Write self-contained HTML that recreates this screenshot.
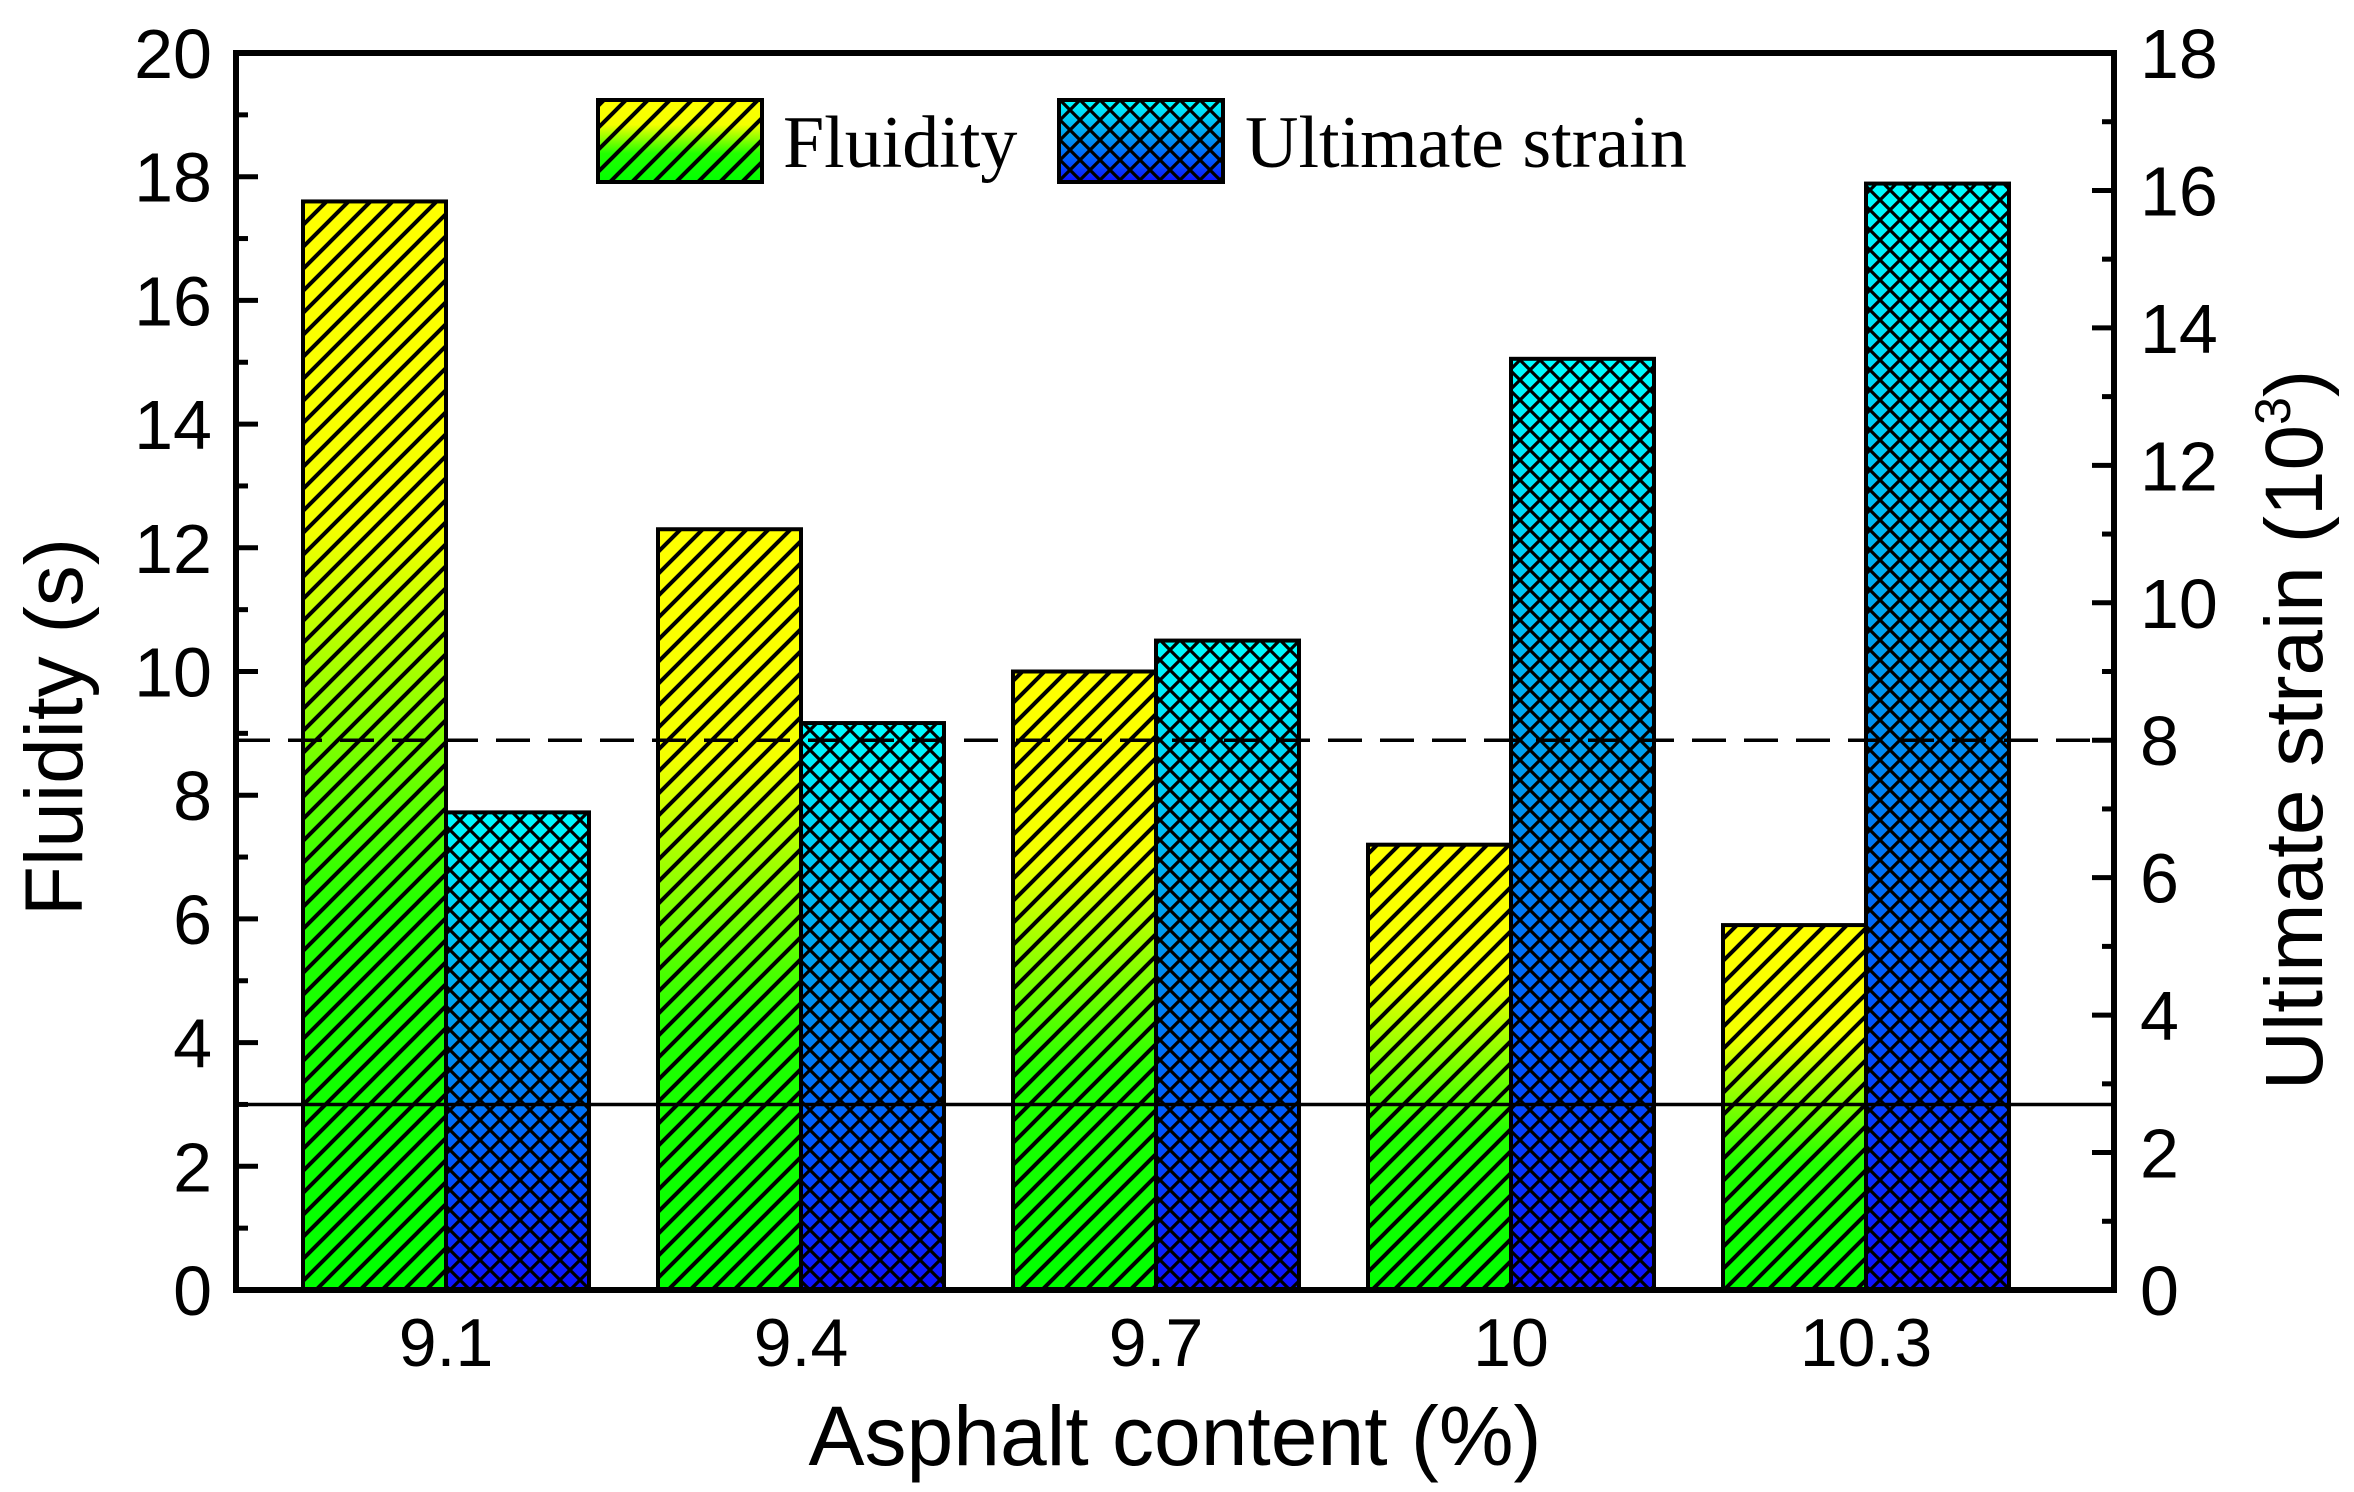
<!DOCTYPE html>
<html><head><meta charset="utf-8"><style>
html,body{margin:0;padding:0;background:#fff;}
svg{display:block;}
text{font-family:"Liberation Sans",Arial,sans-serif;fill:#000;}
</style></head><body>
<svg id="chart" width="2354" height="1492" viewBox="0 0 2354 1492" xmlns="http://www.w3.org/2000/svg">
<defs>
<linearGradient id="gFlu" x1="0" y1="0" x2="0" y2="1">
<stop offset="0" stop-color="#ffff00"/><stop offset="0.3" stop-color="#f4ff00"/><stop offset="0.65" stop-color="#22ff00"/><stop offset="1" stop-color="#00ff00"/>
</linearGradient>
<linearGradient id="gStr" x1="0" y1="0" x2="0" y2="1">
<stop offset="0" stop-color="#00ffff"/><stop offset="0.45" stop-color="#0099ee"/><stop offset="0.75" stop-color="#0055ff"/><stop offset="1" stop-color="#1010ff"/>
</linearGradient>
<pattern id="hDiag" width="22" height="22" patternUnits="userSpaceOnUse">
<path d="M-5,27 L27,-5 M-16,16 L16,-16 M6,38 L38,6" stroke="#000" stroke-width="4"/>
</pattern>
<pattern id="hCross" width="20" height="20" patternUnits="userSpaceOnUse">
<path d="M-5,25 L25,-5 M-5,-5 L25,25 M-15,15 L15,-15 M5,35 L35,5 M-15,5 L5,25 M5,-15 L35,15" stroke="#000" stroke-width="3.2"/>
</pattern>
</defs>
<g id="bars"></g>
<g id="axes"></g>
</svg>
<script>
const categories = ["9.1","9.4","9.7","10","10.3"];
const fluidity = [17.6, 12.3, 10.0, 7.2, 5.9];
const strain = [6.95, 8.25, 9.45, 13.55, 16.1];
const leftTicks = [0,2,4,6,8,10,12,14,16,18,20];
const rightTicks = [0,2,4,6,8,10,12,14,16,18];
const fluidityLimit = [3];
const strainLimit = [8];

const NS="http://www.w3.org/2000/svg";
const L=236,R=2114,T=53,B=1290;
const yL=v=>B-(v/20)*(B-T);
const yR=v=>B-(v/18)*(B-T);
const groupW=355, firstCenter=446, barW=143;
const xC=i=>firstCenter+i*groupW;
function mk(tag,attrs,parent){const e=document.createElementNS(NS,tag);for(const k in attrs)e.setAttribute(k,attrs[k]);parent.appendChild(e);return e;}
const bars=document.getElementById('bars'), axes=document.getElementById('axes');

categories.forEach((c,i)=>{
  const x=xC(i);
  const y1=yL(fluidity[i]);
  const r1=mk('rect',{x:x-barW,y:y1,width:barW,height:B-y1,fill:'url(#gFlu)'},bars);
  
  
  const h1=mk('rect',{x:x-barW,y:y1,width:barW,height:B-y1,fill:'url(#hDiag)',stroke:'#000','stroke-width':4},bars);
  
  
  const y2=yR(strain[i]);
  const r2=mk('rect',{x:x,y:y2,width:barW,height:B-y2,fill:'url(#gStr)'},bars);
  
  
  const h2=mk('rect',{x:x,y:y2,width:barW,height:B-y2,fill:'url(#hCross)',stroke:'#000','stroke-width':4},bars);
  
  
  const t=mk('text',{x:x,y:1366,'font-size':68,'text-anchor':'middle'},axes);
  t.textContent=c;
  
  
});

const sl=mk('line',{x1:L,x2:R,y1:yL(fluidityLimit[0]),y2:yL(fluidityLimit[0]),stroke:'#000','stroke-width':3.5},axes);


const dl=mk('line',{x1:L,x2:R,y1:yR(strainLimit[0]),y2:yR(strainLimit[0]),stroke:'#000','stroke-width':3.5,'stroke-dasharray':'34,18'},axes);



const fr=mk('rect',{x:L,y:T,width:R-L,height:B-T,fill:'none',stroke:'#000','stroke-width':6},axes);



leftTicks.forEach((v,i)=>{
  const y=yL(v);
  mk('line',{x1:L,x2:L+22,y1:y,y2:y,stroke:'#000','stroke-width':5},axes);
  if(i<leftTicks.length-1){const ym=yL(v+1);mk('line',{x1:L,x2:L+12,y1:ym,y2:ym,stroke:'#000','stroke-width':5},axes);}
  const t=mk('text',{x:212,y:y+25,'font-size':70,'text-anchor':'end'},axes);
  t.textContent=v;
  
  
});
rightTicks.forEach((v,i)=>{
  const y=yR(v);
  mk('line',{x1:R,x2:R-22,y1:y,y2:y,stroke:'#000','stroke-width':5},axes);
  if(i<rightTicks.length-1){const ym=yR(v+1);mk('line',{x1:R,x2:R-12,y1:ym,y2:ym,stroke:'#000','stroke-width':5},axes);}
  const t=mk('text',{x:2140,y:y+25,'font-size':70,'text-anchor':'start'},axes);
  t.textContent=v;
  
  
});
</script>
<svg width="2354" height="1492" style="position:absolute;left:0;top:0" xmlns="http://www.w3.org/2000/svg">
<text x="1175" y="1465" font-size="84" text-anchor="middle">Asphalt content (%)</text>
<text transform="translate(82,727) rotate(-90)" font-size="82" text-anchor="middle">Fluidity (s)</text>
<text transform="translate(2322,730) rotate(-90)" font-size="82" text-anchor="middle">Ultimate strain (10<tspan font-size="50" dy="-32">3</tspan><tspan dy="32">)</tspan></text>
<g>
<rect x="598" y="100" width="164" height="82" fill="url(#gFlu)"/>
<rect x="598" y="100" width="164" height="82" fill="url(#hDiag)" stroke="#000" stroke-width="4"/>
<text x="783" y="167" font-size="74" style="font-family:'Liberation Serif',serif">Fluidity</text>
<rect x="1059" y="100" width="164" height="82" fill="url(#gStr)"/>
<rect x="1059" y="100" width="164" height="82" fill="url(#hCross)" stroke="#000" stroke-width="4"/>
<text x="1245" y="167" font-size="74" style="font-family:'Liberation Serif',serif">Ultimate strain</text>
</g>
</svg>
</body></html>
